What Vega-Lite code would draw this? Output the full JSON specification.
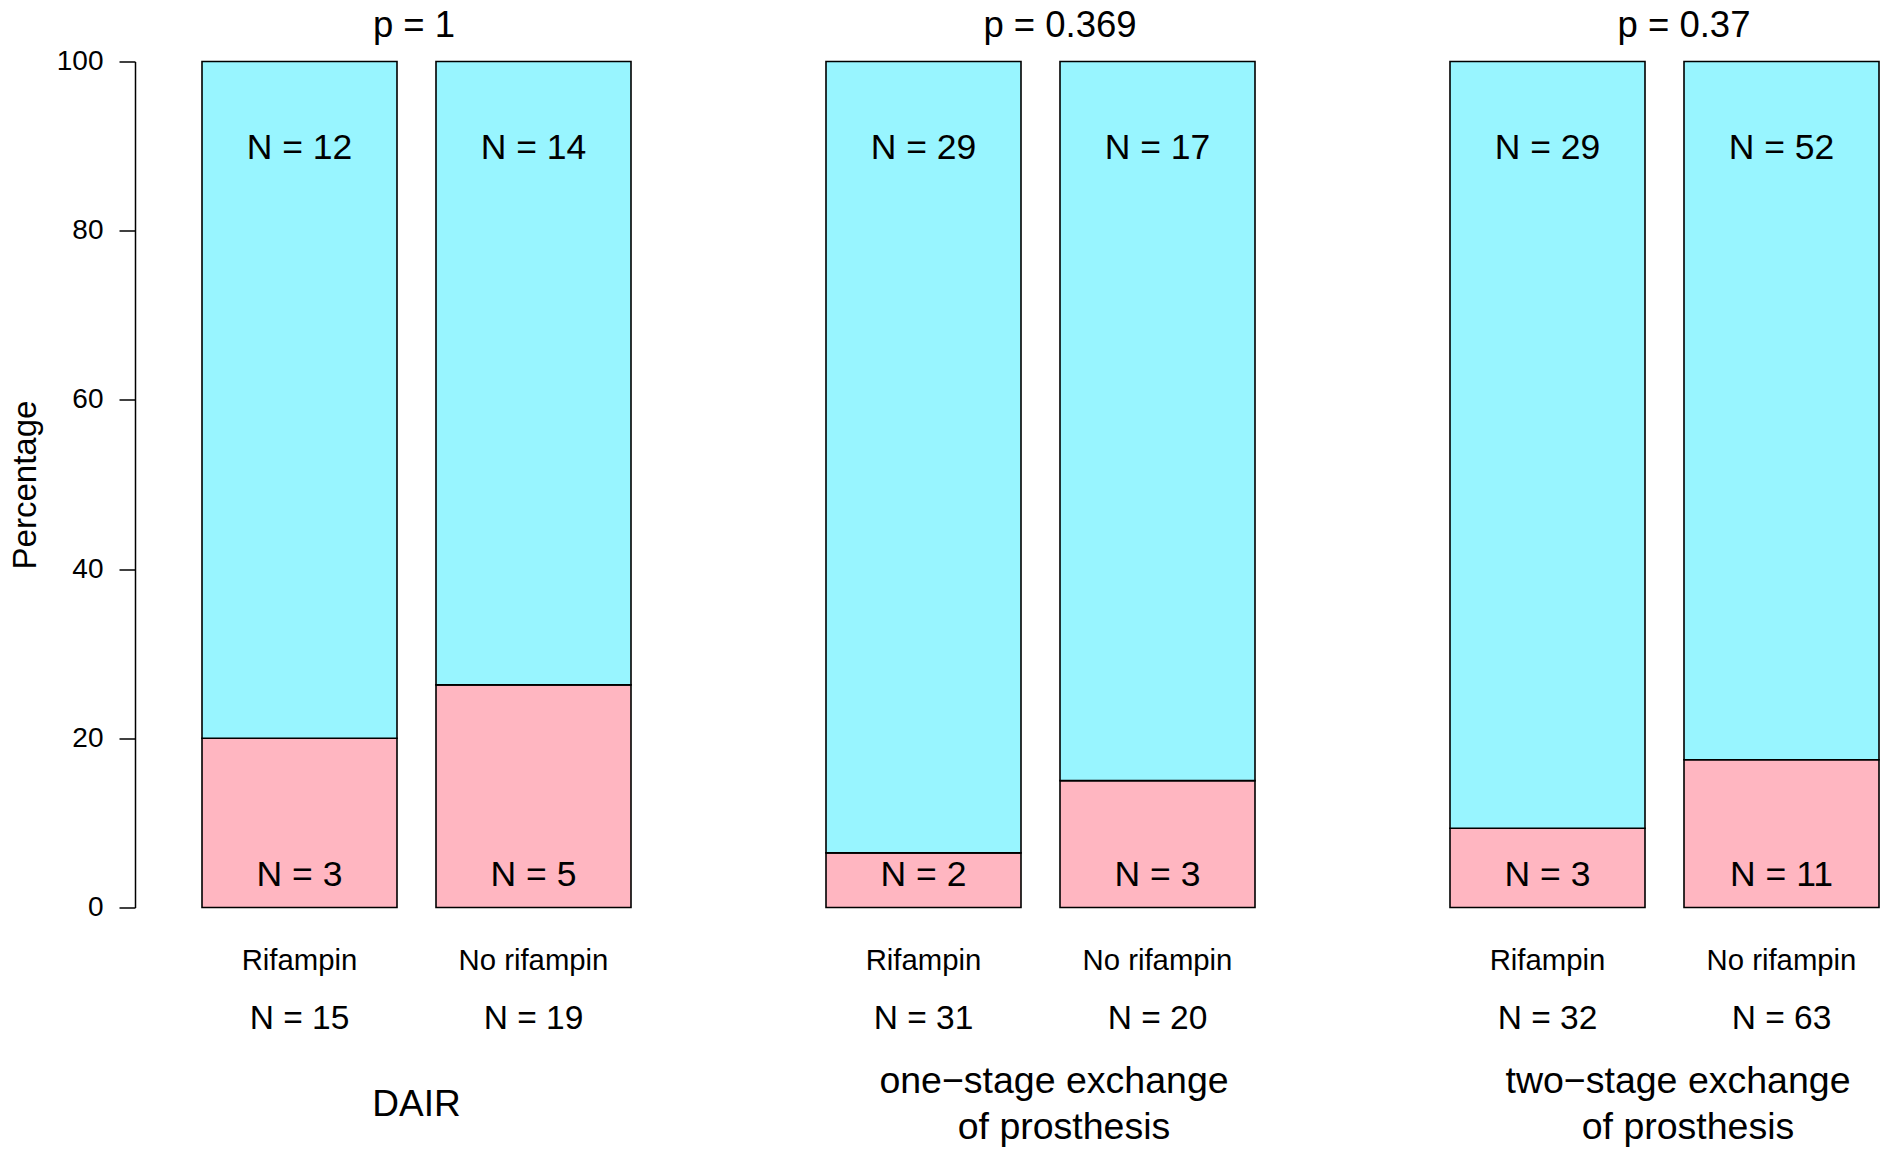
{
  "$schema": "https://vega.github.io/schema/vega-lite/v6.json",
  "autosize": {"type": "pad"},
  "padding": {"left": 9, "top": 7.5, "right": 0, "bottom": 0},
  "background": "white",
  "data": {"values": [
    {"group": "DAIR", "treatment": "Rifampin", "outcome": "failure", "n": 3, "pct": 20.0, "nlabel": "N = 3", "totlabel": "N = 15", "plabel": "p = 1", "glabel1": "DAIR", "glabel2": ""},
    {"group": "DAIR", "treatment": "Rifampin", "outcome": "success", "n": 12, "pct": 80.0, "nlabel": "N = 12", "totlabel": "N = 15", "plabel": "p = 1", "glabel1": "DAIR", "glabel2": ""},
    {"group": "DAIR", "treatment": "No rifampin", "outcome": "failure", "n": 5, "pct": 26.3158, "nlabel": "N = 5", "totlabel": "N = 19", "plabel": "p = 1", "glabel1": "DAIR", "glabel2": ""},
    {"group": "DAIR", "treatment": "No rifampin", "outcome": "success", "n": 14, "pct": 73.6842, "nlabel": "N = 14", "totlabel": "N = 19", "plabel": "p = 1", "glabel1": "DAIR", "glabel2": ""},
    {"group": "one-stage", "treatment": "Rifampin", "outcome": "failure", "n": 2, "pct": 6.4516, "nlabel": "N = 2", "totlabel": "N = 31", "plabel": "p = 0.369", "glabel1": "one\u2212stage exchange", "glabel2": "of prosthesis"},
    {"group": "one-stage", "treatment": "Rifampin", "outcome": "success", "n": 29, "pct": 93.5484, "nlabel": "N = 29", "totlabel": "N = 31", "plabel": "p = 0.369", "glabel1": "one\u2212stage exchange", "glabel2": "of prosthesis"},
    {"group": "one-stage", "treatment": "No rifampin", "outcome": "failure", "n": 3, "pct": 15.0, "nlabel": "N = 3", "totlabel": "N = 20", "plabel": "p = 0.369", "glabel1": "one\u2212stage exchange", "glabel2": "of prosthesis"},
    {"group": "one-stage", "treatment": "No rifampin", "outcome": "success", "n": 17, "pct": 85.0, "nlabel": "N = 17", "totlabel": "N = 20", "plabel": "p = 0.369", "glabel1": "one\u2212stage exchange", "glabel2": "of prosthesis"},
    {"group": "two-stage", "treatment": "Rifampin", "outcome": "failure", "n": 3, "pct": 9.375, "nlabel": "N = 3", "totlabel": "N = 32", "plabel": "p = 0.37", "glabel1": "two\u2212stage exchange", "glabel2": "of prosthesis"},
    {"group": "two-stage", "treatment": "Rifampin", "outcome": "success", "n": 29, "pct": 90.625, "nlabel": "N = 29", "totlabel": "N = 32", "plabel": "p = 0.37", "glabel1": "two\u2212stage exchange", "glabel2": "of prosthesis"},
    {"group": "two-stage", "treatment": "No rifampin", "outcome": "failure", "n": 11, "pct": 17.4603, "nlabel": "N = 11", "totlabel": "N = 63", "plabel": "p = 0.37", "glabel1": "two\u2212stage exchange", "glabel2": "of prosthesis"},
    {"group": "two-stage", "treatment": "No rifampin", "outcome": "success", "n": 52, "pct": 82.5397, "nlabel": "N = 52", "totlabel": "N = 63", "plabel": "p = 0.37", "glabel1": "two\u2212stage exchange", "glabel2": "of prosthesis"}
  ]},
  "facet": {"column": {"field": "group", "type": "nominal", "sort": ["DAIR", "one-stage", "two-stage"], "header": null}},
  "spacing": {"column": 195},
  "bounds": "flush",
  "spec": {
    "width": 429,
    "height": 846,
    "layer": [
      {
        "mark": {"type": "bar", "stroke": "black", "strokeWidth": 1.6},
        "encoding": {
          "x": {"field": "treatment", "type": "nominal", "sort": ["Rifampin", "No rifampin"], "scale": {"paddingInner": 0.166667, "paddingOuter": 0}, "axis": null},
          "y": {"field": "pct", "type": "quantitative", "stack": "zero", "title": "Percentage",
                "scale": {"domain": [0, 100], "nice": false},
                "axis": {"values": [0, 20, 40, 60, 80, 100], "offset": 67, "tickSize": 16, "labelPadding": 16,
                         "labelFontSize": 28, "titleFontSize": 33, "titlePadding": 14, "titleFontWeight": "normal",
                         "domainColor": "black", "tickColor": "black", "labelColor": "black", "titleColor": "black",
                         "domainWidth": 1.5, "tickWidth": 1.5, "grid": false, "labelFlush": false, "labelOverlap": false, "labelBound": false}},
          "color": {"field": "outcome", "type": "nominal", "scale": {"domain": ["failure", "success"], "range": ["#FFB6C1", "#98F5FF"]}, "legend": null},
          "order": {"field": "outcome", "sort": "ascending"}
        }
      },
      {
        "transform": [{"filter": "datum.outcome == 'success'"}],
        "mark": {"type": "text", "fontSize": 35.5, "baseline": "alphabetic", "fill": "black"},
        "encoding": {
          "x": {"field": "treatment", "type": "nominal", "sort": ["Rifampin", "No rifampin"]},
          "y": {"datum": 88.5, "type": "quantitative"},
          "text": {"field": "nlabel"}
        }
      },
      {
        "transform": [{"filter": "datum.outcome == 'failure'"}],
        "mark": {"type": "text", "fontSize": 35.5, "baseline": "alphabetic", "fill": "black"},
        "encoding": {
          "x": {"field": "treatment", "type": "nominal", "sort": ["Rifampin", "No rifampin"]},
          "y": {"datum": 2.52, "type": "quantitative"},
          "text": {"field": "nlabel"}
        }
      },
      {
        "transform": [{"filter": "datum.outcome == 'success'"}],
        "mark": {"type": "text", "fontSize": 29.3, "baseline": "alphabetic", "fill": "black"},
        "encoding": {
          "x": {"field": "treatment", "type": "nominal", "sort": ["Rifampin", "No rifampin"]},
          "y": {"datum": -7.41, "type": "quantitative"},
          "text": {"field": "treatment"}
        }
      },
      {
        "transform": [{"filter": "datum.outcome == 'success'"}],
        "mark": {"type": "text", "fontSize": 33.5, "baseline": "alphabetic", "fill": "black"},
        "encoding": {
          "x": {"field": "treatment", "type": "nominal", "sort": ["Rifampin", "No rifampin"]},
          "y": {"datum": -14.34, "type": "quantitative"},
          "text": {"field": "totlabel"}
        }
      },
      {
        "transform": [{"filter": "datum.outcome == 'success' && datum.treatment == 'Rifampin' && datum.group == 'DAIR'"}],
        "mark": {"type": "text", "fontSize": 36.5, "baseline": "alphabetic", "fill": "black", "dx": -2.5},
        "encoding": {
          "y": {"datum": 102.87, "type": "quantitative"},
          "text": {"field": "plabel"}
        }
      },
      {
        "transform": [{"filter": "datum.outcome == 'success' && datum.treatment == 'Rifampin' && datum.group != 'DAIR'"}],
        "mark": {"type": "text", "fontSize": 36.5, "baseline": "alphabetic", "fill": "black", "dx": 19.5},
        "encoding": {
          "y": {"datum": 102.87, "type": "quantitative"},
          "text": {"field": "plabel"}
        }
      },
      {
        "transform": [{"filter": "datum.outcome == 'success' && datum.treatment == 'Rifampin' && datum.group == 'DAIR'"}],
        "mark": {"type": "text", "fontSize": 37, "baseline": "alphabetic", "fill": "black"},
        "encoding": {
          "y": {"datum": -24.67, "type": "quantitative"},
          "text": {"field": "glabel1"}
        }
      },
      {
        "transform": [{"filter": "datum.outcome == 'success' && datum.treatment == 'Rifampin' && datum.group != 'DAIR'"}],
        "mark": {"type": "text", "fontSize": 37.5, "baseline": "alphabetic", "fill": "black", "dx": 13.5},
        "encoding": {
          "y": {"datum": -21.95, "type": "quantitative"},
          "text": {"field": "glabel1"}
        }
      },
      {
        "transform": [{"filter": "datum.outcome == 'success' && datum.treatment == 'Rifampin' && datum.group != 'DAIR'"}],
        "mark": {"type": "text", "fontSize": 37.5, "baseline": "alphabetic", "fill": "black", "dx": 23.5},
        "encoding": {
          "y": {"datum": -27.42, "type": "quantitative"},
          "text": {"field": "glabel2"}
        }
      }
    ]
  },
  "config": {
    "font": "Liberation Sans",
    "view": {"stroke": null},
    "axis": {"labelFont": "Liberation Sans", "titleFont": "Liberation Sans"}
  }
}
